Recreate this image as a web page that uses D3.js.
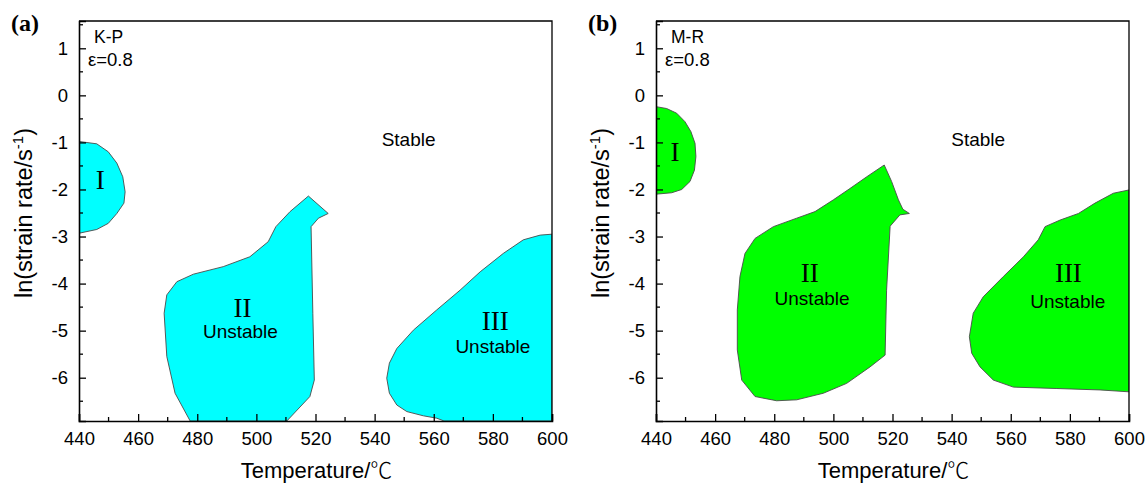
<!DOCTYPE html>
<html>
<head>
<meta charset="utf-8">
<script src="https://cdn.jsdelivr.net/npm/d3@7/dist/d3.min.js"></script>
<style>
  html, body { margin: 0; padding: 0; background: #fff; }
  svg { display: block; }
  text { font-family: "Liberation Sans", Arial, sans-serif; fill: #000; }
  .serif { font-family: "Liberation Serif", "Times New Roman", serif; }
</style>
</head>
<body>
<svg id="chart" width="1148" height="483"></svg>
<script>
// Processing-map instability domains, strain 0.8: temperature (°C) vs ln(strain rate)
const xTicks = [440, 460, 480, 500, 520, 540, 560, 580, 600];
const yTicks = [-6, -5, -4, -3, -2, -1, 0, 1];
const xDomain = [440, 600];
const yDomain = [-6.92, 1.58];

// Kumar–Prasad criterion: domain outlines as [temperature, ln(strain rate)]
const kpRegionI = [
  [440, -0.98], [446.0, -1.03], [449.9, -1.20], [452.8, -1.44], [454.8, -1.73],
  [455.6, -2.05], [455.2, -2.29], [452.8, -2.51], [449.9, -2.72], [446.0, -2.85],
  [440, -2.93]
];
const kpRegionII = [
  [477.6, -6.92], [472.5, -6.33], [469.7, -5.55], [468.8, -4.63], [469.7, -4.24],
  [473.1, -3.96], [478.7, -3.80], [488.8, -3.64], [497.8, -3.43], [504.0, -3.11],
  [506.6, -2.79], [511.4, -2.47], [517.6, -2.14], [524.3, -2.51], [521.0, -2.61],
  [518.5, -2.79], [519.1, -4.63], [519.6, -6.05], [518.1, -6.40], [510.3, -6.92]
];
const kpRegionIII = [
  [600, -2.95], [596.0, -2.97], [590.3, -3.07], [583.5, -3.36], [575.7, -3.75],
  [568.9, -4.14], [561.0, -4.56], [553.1, -4.99], [547.5, -5.38], [545.0, -5.69],
  [544.1, -6.01], [545.0, -6.33], [547.5, -6.58], [550.9, -6.72], [556.5, -6.81],
  [561.0, -6.86], [563.5, -6.92], [600, -6.92]
];

// Murty–Rao criterion
const mrRegionI = [
  [440, -0.24], [443.6, -0.28], [447.0, -0.38], [449.8, -0.56], [451.8, -0.77],
  [453.2, -1.02], [453.5, -1.30], [453.0, -1.59], [451.5, -1.83], [448.7, -2.00],
  [445.3, -2.07], [440, -2.10]
];
const mrRegionII = [
  [517.2, -1.48], [519.7, -1.83], [522.0, -2.22], [523.5, -2.42], [525.7, -2.51],
  [522.5, -2.54], [519.2, -2.78], [518.0, -4.14], [517.5, -5.52], [512.4, -5.77],
  [504.5, -6.12], [496.6, -6.33], [487.6, -6.47], [480.8, -6.49], [473.5, -6.40],
  [469.0, -6.05], [467.5, -5.41], [467.5, -4.56], [468.4, -3.85], [470.1, -3.36],
  [473.5, -3.04], [479.7, -2.79], [487.6, -2.61], [493.8, -2.47], [500.0, -2.22],
  [505.6, -1.98], [511.3, -1.73]
];
const mrRegionIII = [
  [600, -2.01], [594.7, -2.08], [588.5, -2.29], [582.9, -2.51], [576.7, -2.65],
  [571.6, -2.79], [569.3, -3.07], [564.3, -3.43], [557.5, -3.85], [550.7, -4.28],
  [547.3, -4.63], [546.0, -5.13], [546.8, -5.48], [549.6, -5.77], [554.1, -6.05],
  [560.9, -6.20], [575.6, -6.23], [590.2, -6.26], [600, -6.30]
];

const panels = [
  {
    tag: "(a)", method: "K-P", fill: "#00ffff", left: 79,
    regions: [kpRegionI, kpRegionII, kpRegionIII],
    labels: [
      { t: "I", serif: true, at: [447.2, -2.0], size: 27 },
      { t: "II", serif: true, at: [495.3, -4.7], size: 27 },
      { t: "Unstable", at: [494.6, -5.16], size: 19 },
      { t: "III", serif: true, at: [580.8, -4.98], size: 27 },
      { t: "Unstable", at: [580.0, -5.48], size: 19 },
      { t: "Stable", at: [551.5, -1.07], size: 19 }
    ]
  },
  {
    tag: "(b)", method: "M-R", fill: "#00ff00", left: 656,
    regions: [mrRegionI, mrRegionII, mrRegionIII],
    labels: [
      { t: "I", serif: true, at: [446.4, -1.40], size: 27 },
      { t: "II", serif: true, at: [492.0, -3.96], size: 27 },
      { t: "Unstable", at: [492.8, -4.45], size: 19 },
      { t: "III", serif: true, at: [579.5, -3.96], size: 27 },
      { t: "Unstable", at: [579.3, -4.51], size: 19 },
      { t: "Stable", at: [549.0, -1.07], size: 19 }
    ]
  }
];

const svg = d3.select("#chart");
const plotTop = 21, plotBottom = 421, plotWidth = 473;

panels.forEach(p => {
  const x = d3.scaleLinear().domain(xDomain).range([p.left, p.left + plotWidth]);
  const y = d3.scaleLinear().domain(yDomain).range([plotBottom, plotTop]);
  const g = svg.append("g");

  const clipId = "clip-" + p.method;
  svg.append("clipPath").attr("id", clipId)
    .append("rect").attr("x", p.left).attr("y", plotTop)
    .attr("width", plotWidth).attr("height", plotBottom - plotTop);

  const line = d3.line().x(d => x(d[0])).y(d => y(d[1])).curve(d3.curveLinearClosed);

  g.append("g").attr("clip-path", `url(#${clipId})`)
    .selectAll("path").data(p.regions).join("path")
    .attr("d", line)
    .attr("fill", p.fill)
    .attr("stroke", "#4a4a4a")
    .attr("stroke-width", 0.9)
    .attr("stroke-linejoin", "round");

  // frame: top and right edges without ticks
  g.append("path")
    .attr("d", `M${p.left},${plotTop}H${p.left + plotWidth}V${plotBottom}`)
    .attr("fill", "none").attr("stroke", "#000").attr("stroke-width", 1.3);

  // bottom axis, ticks pointing inward
  const xAxis = g.append("g").attr("transform", `translate(0,${plotBottom})`)
    .call(d3.axisBottom(x).tickValues(xTicks).tickSize(-7).tickPadding(11).tickFormat(d3.format("d")));
  xAxis.append("g").selectAll("line")
    .data(d3.range(450, 600, 20)).join("line")
    .attr("x1", d => x(d)).attr("x2", d => x(d))
    .attr("y1", 0).attr("y2", -4).attr("stroke", "#000").attr("stroke-width", 1.3);

  // left axis, ticks pointing inward
  const yAxis = g.append("g").attr("transform", `translate(${p.left},0)`)
    .call(d3.axisLeft(y).tickValues(yTicks).tickSize(-7).tickPadding(11).tickFormat(d3.format("d")));
  yAxis.append("g").selectAll("line")
    .data(d3.range(-6.5, 1.6, 1)).join("line")
    .attr("y1", d => y(d)).attr("y2", d => y(d))
    .attr("x1", 0).attr("x2", 4).attr("stroke", "#000").attr("stroke-width", 1.3);

  [xAxis, yAxis].forEach(a => {
    a.select(".domain").attr("stroke", "#000").attr("stroke-width", 1.6);
    a.selectAll(".tick line").attr("stroke", "#000").attr("stroke-width", 1.3);
    a.selectAll(".tick text").attr("font-size", 18.5)
      .attr("font-family", "'Liberation Sans', Arial, sans-serif").attr("fill", "#000");
  });
  yAxis.selectAll(".tick text").text(d => d < 0 ? "-" + Math.abs(d) : d);

  // axis titles
  const xt = g.append("text")
    .attr("x", p.left + plotWidth / 2 + 1).attr("y", 478)
    .attr("text-anchor", "middle").attr("font-size", 22);
  xt.append("tspan").text("Temperature/");
  xt.append("tspan").attr("font-family", "'Noto Sans CJK SC', sans-serif")
    .attr("font-weight", 300).text("℃");

  const yt = g.append("text")
    .attr("transform", `translate(${p.left - 47},213) rotate(-90)`)
    .attr("text-anchor", "middle").attr("font-size", 23.5);
  yt.append("tspan").text("ln(strain rate/s");
  yt.append("tspan").attr("dy", -9).attr("font-size", 15).text("-1");
  yt.append("tspan").attr("dy", 9).text(")");

  // panel tag and method note
  g.append("text").attr("class", "serif")
    .attr("x", p.left - 68).attr("y", 31)
    .attr("font-size", 24).attr("font-weight", "bold").text(p.tag);
  g.append("text").attr("x", p.left + 15).attr("y", 43).attr("font-size", 17.5).text(p.method);
  g.append("text").attr("x", p.left + 9).attr("y", 66).attr("font-size", 18.5).text("ε=0.8");

  g.selectAll("text.lbl").data(p.labels).join("text")
    .attr("class", d => "lbl" + (d.serif ? " serif" : ""))
    .attr("x", d => x(d.at[0])).attr("y", d => y(d.at[1]))
    .attr("text-anchor", "middle")
    .attr("font-size", d => d.size)
    .text(d => d.t);
});
</script>
</body>
</html>
